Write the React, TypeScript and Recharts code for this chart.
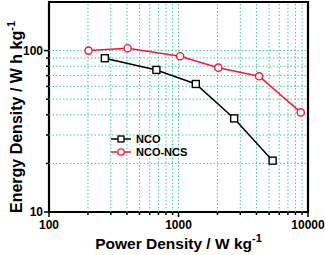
import React from "react";
import { LineChart, Line, XAxis, YAxis, ReferenceLine, ReferenceArea, Legend, Label } from "recharts";

// Ragone plot (log-log)
const ncoPower = [270, 675, 1360, 2690, 5330];
const ncoEnergy = [89.7, 75.9, 62.1, 38.0, 20.8];
const ncsPower = [202, 405, 1030, 2030, 4190, 8790];
const ncsEnergy = [100, 103.5, 92.3, 78.4, 69.3, 41.4];

const xTicks = [100, 200, 300, 400, 500, 600, 700, 800, 900, 1000, 2000, 3000, 4000, 5000, 6000, 7000, 8000, 9000, 10000];
const xMajor = [100, 1000, 10000];
const yTicks = [10, 20, 30, 40, 50, 60, 70, 80, 90, 100];
const yMajor = [10, 100];
const xGrid = [200, 300, 400, 500, 600, 700, 800, 900, 1000, 2000, 3000, 4000, 5000, 6000, 7000, 8000, 9000];
const yGrid = [20, 30, 40, 50, 60, 70, 80, 90, 100];

const ncoData = ncoPower.map((p, i) => ({ p, e: ncoEnergy[i] }));
const ncsData = ncsPower.map((p, i) => ({ p, e: ncsEnergy[i] }));

const FONT = "'Liberation Sans', Arial, sans-serif";
const RED = "#ff1438";
const GRID = "#3ccf96";

const XTick = (props: any) => {
  const { x, y, payload } = props;
  const major = xMajor.includes(payload.value);
  return (
    <g>
      <line x1={x} x2={x} y1={y} y2={y + (major ? 5 : 3)} stroke="#000" strokeWidth={1.5} />
      {major && (
        <text x={x} y={y + 17} textAnchor="middle" fontSize={12} fontWeight="bold" fontFamily={FONT} fill="#000">
          {payload.value}
        </text>
      )}
    </g>
  );
};

const YTick = (props: any) => {
  const { x, y, payload } = props;
  const major = yMajor.includes(payload.value);
  return (
    <g>
      <line x1={x - (major ? 5 : 3)} x2={x} y1={y} y2={y} stroke="#000" strokeWidth={1.5} />
      {major && (
        <text x={x - 6} y={y + 4} textAnchor="end" fontSize={12} fontWeight="bold" fontFamily={FONT} fill="#000">
          {payload.value}
        </text>
      )}
    </g>
  );
};

const XTitle = (props: any) => {
  const { viewBox } = props;
  const cx = viewBox.x + viewBox.width / 2;
  return (
    <text x={cx} y={249} textAnchor="middle" fontSize={15.5} fontWeight="bold" fontFamily={FONT} fill="#000">
      Power Density / W kg
      <tspan dy={-7} fontSize={11}>-1</tspan>
    </text>
  );
};

const YTitle = () => (
  <text x={22} y={117} transform="rotate(-90, 22, 117)" textAnchor="middle" fontSize={16} fontWeight="bold" fontFamily={FONT} fill="#000">
    Energy Density / W h kg
    <tspan dy={-7} fontSize={11}>-1</tspan>
  </text>
);

const LegendBox = (props: any) => {
  const { payload } = props;
  return (
    <div style={{ fontFamily: FONT, fontSize: 11, fontWeight: "bold" }}>
      {payload.map((item: any) => (
        <div key={item.value} style={{ display: "flex", alignItems: "center", height: 13 }}>
          <svg width={24} height={10}>
            <line x1={1} x2={21} y1={5} y2={5} stroke={item.color} strokeWidth={1.5} />
            {item.value === "NCO" ? (
              <rect x={8} y={2} width={6} height={6} fill="#fff" stroke={item.color} strokeWidth={1.3} />
            ) : (
              <circle cx={11} cy={5} r={3.2} fill="#fff" stroke={item.color} strokeWidth={1.3} />
            )}
          </svg>
          <span style={{ color: "#000", marginLeft: 2 }}>{item.value}</span>
        </div>
      ))}
    </div>
  );
};

const SquareDot = (props: any) => {
  const { cx, cy } = props;
  return <rect x={cx - 3.5} y={cy - 3.5} width={7} height={7} fill="#fff" stroke="#000" strokeWidth={1.4} />;
};

export default function App() {
  return (
    <div style={{ position: "absolute", left: 0, top: 0, background: "#fff" }}>
      <LineChart width={325} height={255} margin={{ top: 2, right: 17, left: 0, bottom: 0 }}>
        <XAxis
          dataKey="p"
          type="number"
          scale="log"
          domain={[100, 10000]}
          ticks={xTicks}
          interval={0}
          allowDataOverflow
          axisLine={false}
          tickLine={false}
          tickSize={0}
          tickMargin={0}
          tick={<XTick />}
          height={43}
        >
          <Label content={<XTitle />} />
        </XAxis>
        <YAxis
          dataKey="e"
          type="number"
          scale="log"
          domain={[10, 200]}
          ticks={yTicks}
          interval={0}
          allowDataOverflow
          axisLine={false}
          tickLine={false}
          tickSize={0}
          tickMargin={0}
          tick={<YTick />}
          width={49}
        >
          <Label content={<YTitle />} />
        </YAxis>
        {xGrid.map((v) => (
          <ReferenceLine key={"x" + v} x={v} stroke={GRID} strokeWidth={1} strokeDasharray="1.5 2" />
        ))}
        {yGrid.map((v) => (
          <ReferenceLine key={"y" + v} y={v} stroke={GRID} strokeWidth={1} strokeDasharray="1.5 2" />
        ))}
        <ReferenceArea x1={100} x2={10000} y1={10} y2={200} fill="none" stroke="#000" strokeWidth={2.2} />
        <Line
          data={ncoData}
          dataKey="e"
          name="NCO"
          stroke="#000"
          strokeWidth={1.5}
          dot={<SquareDot />}
          isAnimationActive={false}
        />
        <Line
          data={ncsData}
          dataKey="e"
          name="NCO-NCS"
          stroke={RED}
          strokeWidth={1.5}
          dot={{ r: 3.6, fill: "#fff", stroke: RED, strokeWidth: 1.4 }}
          isAnimationActive={false}
        />
        <Legend
          layout="vertical"
          verticalAlign="middle"
          align="center"
          content={<LegendBox />}
          wrapperStyle={{ left: 110, top: 132, width: "auto" }}
        />
      </LineChart>
    </div>
  );
}
